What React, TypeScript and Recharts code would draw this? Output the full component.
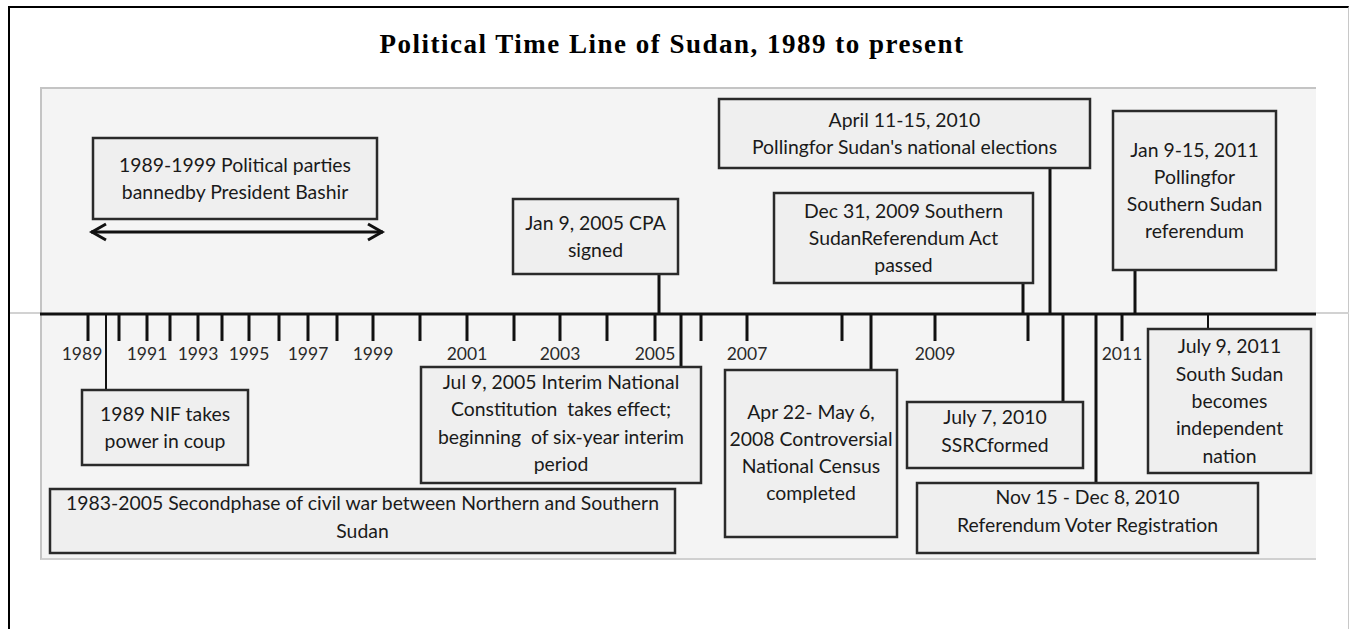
import React from 'react';
import { ComposedChart, XAxis, YAxis, Scatter, ReferenceLine } from 'recharts';

const title = 'Political Time Line of Sudan, 1989 to present';

// Ruler ticks: the year and where its tick sits along the hand-drawn ruler
// (the original ruler is not evenly spaced, so positions are read off the picture)
const tickYears = [1989, 1990, 1991, 1992, 1993, 1994, 1995, 1996, 1997, 1998, 1999, 2000, 2001, 2002, 2003, 2004, 2005, 2006, 2007, 2008, 2009, 2010, 2011];
const tickRuler = [48, 79, 107, 130, 158, 182, 209, 239, 268, 297, 333, 380, 427, 474, 520, 567, 615, 661, 707, 802, 895, 988, 1082];
const labelledYears = [1989, 1991, 1993, 1995, 1997, 1999, 2001, 2003, 2005, 2007, 2009, 2011];

// Dated events hung off the ruler
const eventIds = ['nif', 'cpa', 'interim', 'census', 'refAct', 'elections', 'ssrc', 'voterReg', 'referendum', 'independence'];
const eventRuler = [66, 619, 641, 831, 983, 1010, 1023, 1056, 1095, 1168];
const eventText = [
    ['1989 NIF takes', 'power in coup'],
    ['Jan 9, 2005 CPA', 'signed'],
    ['Jul 9, 2005 Interim National', 'Constitution  takes effect;', 'beginning  of six-year interim', 'period'],
    ['Apr 22- May 6,', '2008 Controversial', 'National Census', 'completed'],
    ['Dec 31, 2009 Southern', 'SudanReferendum Act', 'passed'],
    ['April 11-15, 2010', "Pollingfor Sudan's national elections"],
    ['July 7, 2010', 'SSRCformed'],
    ['Nov 15 - Dec 8, 2010', 'Referendum Voter Registration'],
    ['Jan 9-15, 2011', 'Pollingfor', 'Southern Sudan', 'referendum'],
    ['July 9, 2011', 'South Sudan', 'becomes', 'independent', 'nation'],
];

// Periods (span along the ruler)
const periodIds = ['ban', 'civilWar'];
const periodFrom = [51, 0];
const periodTo = [343, 615];
const periodText = [
    ['1989-1999 Political parties', 'bannedby President Bashir'],
    ['1983-2005 Secondphase of civil war between Northern and Southern', 'Sudan'],
];

// ---- layout of the note boxes (chart-relative pixels) ----
type Box = { x: number; y: number; w: number; h: number; dy?: number };
const boxes: Record<string, Box> = {
    ban: { x: 53, y: 51, w: 284, h: 81 },
    civilWar: { x: 10, y: 402, w: 625, h: 64, dy: -4 },
    nif: { x: 42, y: 303, w: 166, h: 75 },
    cpa: { x: 473, y: 112, w: 165, h: 75 },
    interim: { x: 381, y: 280, w: 280, h: 116, dy: -2 },
    census: { x: 685, y: 283, w: 172, h: 167, dy: -1 },
    refAct: { x: 734, y: 106, w: 259, h: 90 },
    elections: { x: 679, y: 12, w: 371, h: 69 },
    ssrc: { x: 867, y: 315, w: 176, h: 66, dy: -4 },
    voterReg: { x: 877, y: 396, w: 341, h: 70, dy: -7 },
    referendum: { x: 1073, y: 24, w: 163, h: 159 },
    independence: { x: 1108, y: 242, w: 163, h: 144 },
};
const thinConnectors = ['nif', 'independence'];
const arrowY = 145;
// the first year label sits a little left of its tick in the original
const labelShift: Record<number, number> = { 1989: -6 };

const CHART_W = 1276;
const CHART_H = 473;
const TEXT_FONT = 'Lato, "Open Sans", sans-serif';
const LINE_H = 27.3;

const NoteBox = ({ box, lines }: { box: Box; lines: string[] }) => {
    const mid = box.y + box.h / 2 + (box.dy || 0);
    const first = mid - ((lines.length - 1) * LINE_H) / 2;
    return (
        <g>
            <rect x={box.x} y={box.y} width={box.w} height={box.h} fill="#efefef" stroke="#2a2a2a" strokeWidth={2.5} />
            <text textAnchor="middle" fontFamily={TEXT_FONT} fontSize={19.4} fill="#1a1a1a">
                {lines.map((l, i) => (
                    <tspan key={i} x={box.x + box.w / 2} y={first + i * LINE_H} dy="0.36em" style={{ whiteSpace: 'pre' }}>
                        {l}
                    </tspan>
                ))}
            </text>
        </g>
    );
};

// connector from the ruler to its box, then the box
const EventMark = (props: any) => {
    const { cx, cy, payload } = props;
    const box = boxes[payload.id];
    const above = box.y + box.h < cy;
    const yEnd = above ? box.y + box.h : box.y;
    return (
        <g>
            <line x1={cx} x2={cx} y1={cy} y2={yEnd} stroke="#111" strokeWidth={thinConnectors.includes(payload.id) ? 2 : 3} />
            <NoteBox box={box} lines={payload.lines} />
        </g>
    );
};

const PeriodMark = (id: string, lines: string[]) => (props: any) => {
    const { x1, x2 } = props;
    const box = boxes[id];
    return (
        <g>
            {id === 'ban' && (
                <g stroke="#111" strokeWidth={3} fill="none">
                    <line x1={x1} x2={x2} y1={arrowY} y2={arrowY} />
                    <polyline points={`${x1 + 15},${arrowY - 8} ${x1 + 1},${arrowY} ${x1 + 15},${arrowY + 8}`} />
                    <polyline points={`${x2 - 15},${arrowY - 8} ${x2 - 1},${arrowY} ${x2 - 15},${arrowY + 8}`} />
                </g>
            )}
            <NoteBox box={box} lines={lines} />
        </g>
    );
};

const YearTick = (props: any) => {
    const { x, y, payload } = props;
    const year = tickYears[tickRuler.indexOf(payload.value)];
    if (!labelledYears.includes(year)) return <g />;
    return (
        <text x={x + (labelShift[year] || 0)} y={y} dy={17} textAnchor="middle" fontFamily={TEXT_FONT} fontSize={17.5} fill="#2a2a2a">
            {year}
        </text>
    );
};

export default function App() {
    const eventData = eventIds.map((id, i) => ({ id, ruler: eventRuler[i], onAxis: 0, lines: eventText[i] }));

    return (
        <div style={{ position: 'absolute', left: 0, top: 0, width: 1349, height: 629, overflow: 'hidden', background: '#fff' }}>
            {/* page frame */}
            <div style={{ position: 'absolute', left: 8, top: 6, width: 1341, height: 623, boxSizing: 'border-box', borderTop: '2px solid #000', borderLeft: '2px solid #000', borderRight: '1px solid #c8c8c8' }} />
            <svg width={1349} height={80} style={{ position: 'absolute', left: 0, top: 0 }}>
                <text x={672} y={53} textAnchor="middle" fontFamily='"Liberation Serif", serif' fontWeight="bold" fontSize={27} letterSpacing={1.5} fill="#000">
                    {title}
                </text>
            </svg>
            {/* faint rule running across the page behind the picture */}
            <div style={{ position: 'absolute', left: 10, top: 312, width: 1339, height: 2, background: '#d2d2d2' }} />
            {/* picture background */}
            <div style={{ position: 'absolute', left: 40, top: 87, width: CHART_W, height: CHART_H, boxSizing: 'border-box', background: '#f4f4f4', borderTop: '2px solid #c4c4c4', borderLeft: '2px solid #c4c4c4', borderBottom: '2px solid #d0d0d0' }} />
            <div style={{ position: 'absolute', left: 40, top: 87 }}>
                <ComposedChart width={CHART_W} height={CHART_H} margin={{ top: 0, right: 0, left: 0, bottom: 206 }}>
                    <XAxis
                        type="number"
                        dataKey="ruler"
                        domain={[0, CHART_W]}
                        ticks={tickRuler}
                        interval={0}
                        height={40}
                        tickSize={27}
                        tickMargin={2}
                        tick={<YearTick />}
                        tickLine={{ stroke: '#111', strokeWidth: 3 }}
                        axisLine={{ stroke: '#111', strokeWidth: 3 }}
                    />
                    <YAxis hide type="number" dataKey="onAxis" domain={[0, 1]} />
                    {periodIds.map((id, i) => (
                        <ReferenceLine
                            key={id}
                            segment={[{ x: periodFrom[i], y: 0 }, { x: periodTo[i], y: 0 }]}
                            shape={PeriodMark(id, periodText[i])}
                        />
                    ))}
                    <Scatter data={eventData} shape={EventMark} isAnimationActive={false} />
                </ComposedChart>
            </div>
        </div>
    );
}
